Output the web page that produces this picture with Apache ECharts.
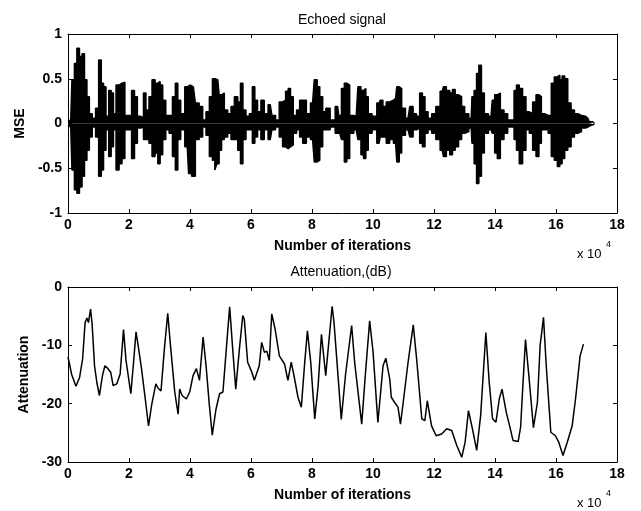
<!DOCTYPE html>
<html><head><meta charset="utf-8">
<script src="https://cdn.jsdelivr.net/npm/echarts@6/dist/echarts.min.js"></script>
<style>html,body{margin:0;padding:0;background:#fff}#c{width:641px;height:511px}</style>
</head><body><div id="c"></div>
<script>
// ---- Echoed signal (envelope of the waveform, x in units of 10^4 iterations) ----
const sigX = [0, 0.09, 0.17, 0.25, 0.33, 0.42, 0.5, 0.58, 0.66, 0.74, 0.85, 0.96, 1.05, 1.13, 1.2, 1.29, 1.38, 1.45, 1.53, 1.62, 1.73, 1.81, 1.92, 2.03, 2.14, 2.22, 2.33, 2.44, 2.51, 2.6, 2.71, 2.8, 2.91, 2.98, 3.06, 3.15, 3.26, 3.37, 3.48, 3.56, 3.64, 3.75, 3.91, 4.0, 4.11, 4.24,
  4.36, 4.47, 4.58, 4.69, 4.78, 4.85, 4.91, 5.0, 5.07, 5.18, 5.29, 5.4, 5.51, 5.62, 5.69, 5.78, 5.89, 6.0, 6.09, 6.16, 6.27, 6.38, 6.49, 6.63, 6.74, 6.87, 6.98, 7.09, 7.18, 7.26, 7.33, 7.44, 7.55, 7.64, 7.75, 7.88, 8.02, 8.13, 8.21, 8.3, 8.4, 8.51, 8.68, 8.84,
  8.91, 9.02, 9.1, 9.18, 9.29, 9.45, 9.56, 9.65, 9.73, 9.8, 9.89, 10.05, 10.2, 10.27, 10.38, 10.49, 10.6, 10.74, 10.82, 10.9, 10.98, 11.15, 11.26, 11.37, 11.48, 11.58, 11.66, 11.75, 11.86, 11.99, 12.13, 12.27, 12.35, 12.46, 12.57, 12.64, 12.75, 12.86, 12.95, 13.06, 13.22,
  13.27, 13.36, 13.43, 13.51, 13.6, 13.7, 13.87, 13.95, 14.03, 14.12, 14.23, 14.36, 14.47, 14.58, 14.67, 14.74, 14.85, 14.96, 15.07, 15.18, 15.29, 15.4, 15.48, 15.56, 15.69, 15.8, 15.89, 16.0, 16.09, 16.16, 16.24, 16.33, 16.44, 16.55, 16.66, 16.77, 16.9, 17.04, 17.15, 17.26];
const sigUp = [0.02, 0.04, 0.49, 0.67, 0.84, 0.75, 0.78, 0.49, 0.30, 0.11, 0.06, 0.17, 0.71, 0.45, 0.41, 0.08, 0.37, 0.34, 0.11, 0.43, 0.45, 0.46, 0.09, 0.09, 0.37, 0.30, 0.08, 0.06, 0.34, 0.15, 0.30, 0.49, 0.45, 0.47, 0.43, 0.26, 0.09, 0.09, 0.30, 0.45, 0.26, 0.11, 0.41, 0.43, 0.41, 0.23,
  0.19, 0.04, 0.13, 0.30, 0.50, 0.49, 0.49, 0.32, 0.34, 0.15, 0.11, 0.19, 0.30, 0.24, 0.45, 0.15, 0.08, 0.11, 0.41, 0.26, 0.13, 0.26, 0.11, 0.21, 0.09, 0.04, 0.24, 0.26, 0.36, 0.39, 0.30, 0.09, 0.15, 0.26, 0.26, 0.11, 0.23, 0.49, 0.41, 0.30, 0.13, 0.17, 0.04, 0.19,
  0.09, 0.39, 0.45, 0.43, 0.09, 0.08, 0.41, 0.37, 0.39, 0.30, 0.11, 0.08, 0.23, 0.26, 0.19, 0.24, 0.26, 0.28, 0.41, 0.39, 0.17, 0.06, 0.19, 0.11, 0.08, 0.34, 0.30, 0.13, 0.06, 0.11, 0.19, 0.36, 0.41, 0.37, 0.34, 0.38, 0.32, 0.30, 0.19, 0.11, 0.06,
  0.30, 0.37, 0.56, 0.65, 0.34, 0.11, 0.08, 0.26, 0.32, 0.34, 0.15, 0.11, 0.04, 0.04, 0.37, 0.43, 0.39, 0.30, 0.13, 0.11, 0.24, 0.32, 0.30, 0.11, 0.09, 0.09, 0.45, 0.52, 0.54, 0.49, 0.53, 0.50, 0.23, 0.15, 0.11, 0.09, 0.08, 0.06, 0.02, 0.00];
const sigLo = [-0.02, -0.04, -0.52, -0.74, -0.78, -0.71, -0.59, -0.41, -0.30, -0.15, -0.04, -0.15, -0.59, -0.52, -0.30, -0.07, -0.37, -0.26, -0.07, -0.52, -0.45, -0.39, -0.07, -0.07, -0.39, -0.22, -0.05, -0.04, -0.18, -0.18, -0.22, -0.37, -0.33, -0.45, -0.35, -0.18, -0.07, -0.11, -0.37, -0.52, -0.18, -0.07, -0.26, -0.56, -0.59, -0.18,
  -0.15, -0.04, -0.13, -0.37, -0.41, -0.52, -0.45, -0.30, -0.18, -0.15, -0.11, -0.18, -0.18, -0.30, -0.45, -0.18, -0.07, -0.07, -0.22, -0.15, -0.07, -0.18, -0.07, -0.18, -0.07, -0.04, -0.15, -0.26, -0.28, -0.26, -0.24, -0.11, -0.07, -0.15, -0.22, -0.15, -0.18, -0.43, -0.41, -0.26, -0.07, -0.07, -0.04, -0.11,
  -0.11, -0.18, -0.43, -0.39, -0.11, -0.07, -0.18, -0.35, -0.39, -0.30, -0.11, -0.07, -0.22, -0.15, -0.15, -0.22, -0.18, -0.22, -0.43, -0.33, -0.13, -0.07, -0.15, -0.07, -0.05, -0.22, -0.26, -0.11, -0.07, -0.11, -0.18, -0.30, -0.37, -0.30, -0.35, -0.30, -0.26, -0.18, -0.11, -0.09, -0.05,
  -0.22, -0.45, -0.67, -0.59, -0.33, -0.11, -0.07, -0.11, -0.33, -0.39, -0.18, -0.11, -0.04, -0.04, -0.18, -0.30, -0.45, -0.30, -0.07, -0.11, -0.30, -0.37, -0.22, -0.07, -0.07, -0.11, -0.37, -0.41, -0.48, -0.45, -0.39, -0.30, -0.26, -0.15, -0.11, -0.09, -0.05, -0.04, -0.02, -0.01];

// ---- Attenuation (dB) ----
const attX = [0, 0.12, 0.26, 0.38, 0.48, 0.56, 0.62, 0.67, 0.74, 0.79, 0.87, 0.95, 1.03, 1.13, 1.21, 1.31, 1.40, 1.48, 1.60, 1.71, 1.82, 1.90, 2.06, 2.15, 2.23, 2.30, 2.41, 2.52, 2.64, 2.74, 2.88, 2.96, 3.05, 3.16, 3.27, 3.36, 3.50, 3.61, 3.66, 3.74, 3.88, 3.99, 4.10, 4.21, 4.31, 4.43, 4.53, 4.63, 4.73, 4.85, 4.97, 5.08, 5.20, 5.30,
  5.40, 5.50, 5.62, 5.73, 5.78, 5.89, 6.02, 6.11, 6.16, 6.27, 6.35, 6.44, 6.52, 6.60, 6.68, 6.79, 6.93, 7.10, 7.21, 7.32, 7.41, 7.54, 7.65, 7.76, 7.85, 7.96, 8.09, 8.20, 8.31, 8.45, 8.55, 8.66, 8.72, 8.80, 8.96, 9.10, 9.30, 9.40, 9.63, 9.75, 9.89, 10.00,
  10.16, 10.33, 10.42, 10.55, 10.60, 10.71, 10.82, 10.90, 10.99, 11.15, 11.32, 11.43, 11.60, 11.70, 11.78, 11.92, 12.07, 12.25, 12.42, 12.58, 12.75, 12.91, 13.02, 13.13, 13.26, 13.40, 13.53, 13.70, 13.81, 13.92, 14.03, 14.14, 14.23, 14.37, 14.48, 14.59, 14.76, 14.84, 14.92,
  15.00, 15.11, 15.26, 15.39, 15.48, 15.59, 15.68, 15.83, 15.98, 16.09, 16.23, 16.37, 16.53, 16.64, 16.79, 16.90];
const attY = [-12.0, -15.0, -17.0, -15.5, -12.3, -6.1, -5.3, -6.1, -3.8, -6.3, -13.5, -16.5, -18.6, -15.2, -13.5, -14.0, -14.6, -16.9, -16.6, -14.9, -7.3, -12.5, -18.3, -12.9, -7.7, -10.0, -14.0, -18.6, -23.8, -20.3, -16.6, -17.4, -17.8, -10.6, -4.5, -10.0, -18.0, -21.8, -17.5, -18.6, -19.2, -18.0, -15.2, -14.0, -16.0, -8.6, -13.7, -20.0, -25.4, -21.0, -18.3, -18.0, -10.0, -3.4,
  -10.6, -17.5, -10.6, -4.9, -5.5, -12.9, -14.5, -16.0, -16.3, -13.5, -9.5, -11.2, -11.0, -12.6, -4.6, -7.2, -11.8, -13.2, -16.0, -12.9, -15.2, -18.9, -20.6, -13.0, -7.5, -13.0, -22.6, -17.0, -8.1, -15.2, -9.5, -3.3, -6.0, -11.5, -22.7, -15.0, -6.6, -13.0, -23.5, -15.0, -5.8, -11.0,
  -23.2, -13.5, -12.2, -15.8, -18.9, -19.8, -20.6, -23.5, -19.8, -12.9, -6.5, -12.3, -22.6, -22.9, -19.5, -23.8, -25.5, -25.2, -24.3, -24.6, -27.2, -29.2, -26.6, -21.2, -24.3, -28.0, -22.0, -7.8, -16.3, -22.6, -23.2, -19.2, -17.5, -21.5, -23.8, -26.3, -26.5, -24.0, -16.3,
  -9.0, -15.2, -24.1, -19.8, -10.0, -5.2, -13.5, -24.9, -25.5, -26.6, -28.9, -26.6, -23.8, -19.2, -11.8, -9.8];

const FF = "'Liberation Sans', Arial, Helvetica, sans-serif";
const chart = echarts.init(document.getElementById('c'), null, {renderer: 'canvas'});

function xAx(grid, pos, showLabel) {
  return {
    gridIndex: grid, type: 'value', position: pos, min: 0, max: 18, interval: 2,
    axisLine: {onZero: false, lineStyle: {color: '#000', width: 1}},
    axisTick: {inside: true, length: 4, lineStyle: {color: '#000'}},
    axisLabel: {show: showLabel, color: '#000', fontSize: 14, fontWeight: 'bold', fontFamily: FF, margin: 5},
    splitLine: {show: false},
    name: showLabel ? 'Number of iterations' : '', nameLocation: 'middle', nameGap: 26,
    nameTextStyle: {color: '#000', fontSize: 14, fontWeight: 'bold', fontFamily: FF}
  };
}
function yAx(grid, pos, showLabel, min, max, interval, name, gap) {
  return {
    gridIndex: grid, type: 'value', position: pos, min: min, max: max, interval: interval,
    axisLine: {onZero: false, lineStyle: {color: '#000', width: 1}},
    axisTick: {inside: true, length: 4, lineStyle: {color: '#000'}},
    axisLabel: {show: showLabel, color: '#000', fontSize: 14, fontWeight: 'bold', fontFamily: FF, margin: 6},
    splitLine: {show: false},
    name: showLabel ? name : '', nameLocation: 'middle', nameGap: gap, nameRotate: 90,
    nameTextStyle: {color: '#000', fontSize: 14, fontWeight: 'bold', fontFamily: FF}
  };
}

const option = {
  animation: false,
  backgroundColor: '#fff',
  grid: [
    {left: 68, top: 34, width: 549, height: 179},
    {left: 68, top: 287, width: 549, height: 175}
  ],
  xAxis: [xAx(0, 'bottom', true), xAx(0, 'top', false), xAx(1, 'bottom', true), xAx(1, 'top', false)],
  yAxis: [
    yAx(0, 'left', true, -1, 1, 0.5, 'MSE', 34),
    yAx(0, 'right', false, -1, 1, 0.5, '', 0),
    yAx(1, 'left', true, -30, 0, 10, 'Attenuation', 30),
    yAx(1, 'right', false, -30, 0, 10, '', 0)
  ],
  series: [
    {type: 'line', xAxisIndex: 0, yAxisIndex: 0, step: 'middle', data: sigX.map((x, i) => [x, sigUp[i]]),
     symbol: 'none', lineStyle: {color: '#000', width: 1.5}, areaStyle: {color: '#000', opacity: 1, origin: 0}},
    {type: 'line', xAxisIndex: 0, yAxisIndex: 0, step: 'middle', data: sigX.map((x, i) => [x, sigLo[i]]),
     symbol: 'none', lineStyle: {color: '#000', width: 1.5}, areaStyle: {color: '#000', opacity: 1, origin: 0}},
    {type: 'line', xAxisIndex: 2, yAxisIndex: 2, data: attX.map((x, i) => [x, attY[i]]),
     symbol: 'none', lineStyle: {color: '#000', width: 1.5}}
  ],
  graphic: [
    {type: 'text', x: 342, y: 20, style: {text: 'Echoed signal', align: 'center', verticalAlign: 'middle', fontSize: 14, fontFamily: FF, fill: '#000'}},
    {type: 'text', x: 341, y: 272, style: {text: 'Attenuation,(dB)', align: 'center', verticalAlign: 'middle', fontSize: 14, fontFamily: FF, fill: '#000'}},
    {type: 'text', x: 577, y: 254, style: {text: 'x 10', align: 'left', verticalAlign: 'middle', fontSize: 13, fontFamily: FF, fill: '#000'}},
    {type: 'text', x: 606, y: 245, style: {text: '4', align: 'left', verticalAlign: 'middle', fontSize: 9, fontFamily: FF, fill: '#000'}},
    {type: 'text', x: 577, y: 503, style: {text: 'x 10', align: 'left', verticalAlign: 'middle', fontSize: 13, fontFamily: FF, fill: '#000'}},
    {type: 'text', x: 606, y: 494, style: {text: '4', align: 'left', verticalAlign: 'middle', fontSize: 9, fontFamily: FF, fill: '#000'}}
  ]
};
chart.setOption(option);
</script></body></html>
